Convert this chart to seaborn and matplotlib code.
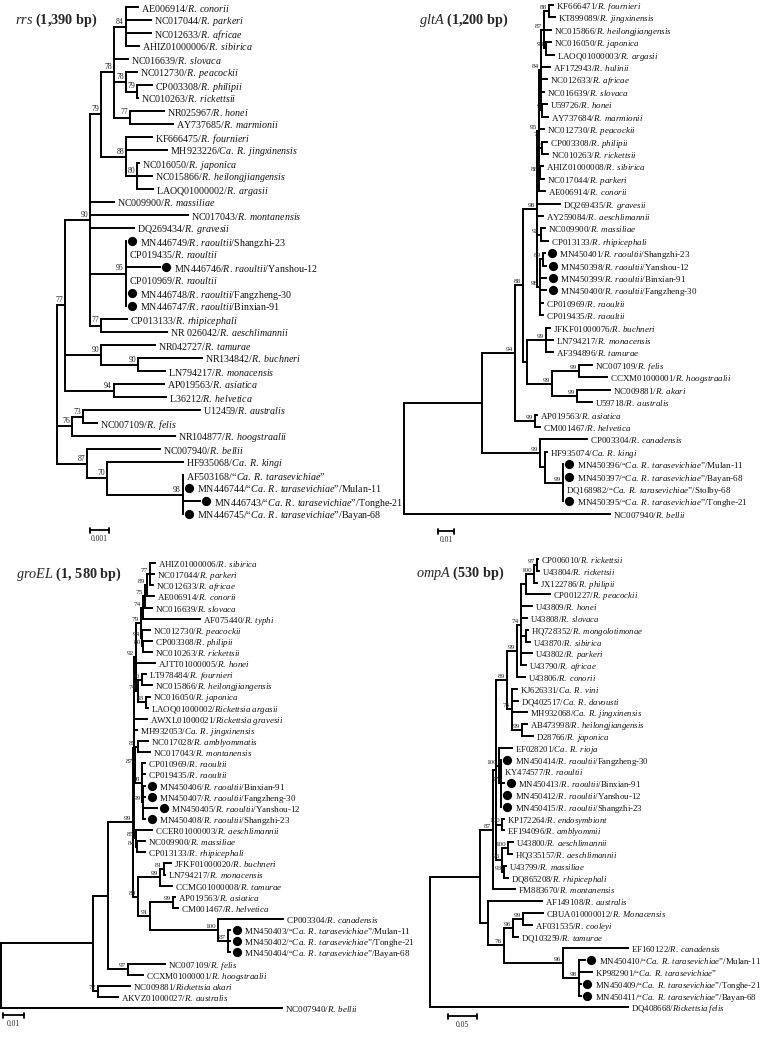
import re
import numpy as np
import pandas as pd
import seaborn as sns
import matplotlib
matplotlib.use("Agg")
import matplotlib.pyplot as plt
from matplotlib.transforms import offset_copy

# ---------------- data: four trees (Newick, branch lengths in substitutions/site) ----------------
# leaf names: "*" = marked with a black dot, {...} = italic part
RRS_TREE = (
    "("
    "("
    "("
    "("
    "("
    "(AE006914/{R. conorii}:0.00063,NC017044/{R. parkeri}:0.00132,NC012633/{R. africae}:0.00132,AHIZ01000006/{R. sibirica}:0.00068)84:0.00063,"
    "NC016639/{R. slovaca}:0.00074,"
    "(NC012730/{R. peacockii}:0.00058,(CP003308/{R. philipii}:0.00079,NC010263/{R. rickettsii}:0.00005)79:0.00058)78:0.00063,"
    "(NR025967/{R. honei}:0.00179,AY737685/{R. marmionii}:0.00226)77:0.00084"
    ")78:0.00068,"
    "(KF666475/{R. fournieri}:0.00137,MH923226/{Ca. R. jingxinensis}:0.00216,(NC016050/{R. japonica}:0.00011,NC015866/{R. heilongjiangensis}:0.00079,LAOQ01000002/{R. argasii}:0.00084)80:0.00058)88:0.00132"
    ")79:0.00058,"
    "NC009900/{R. massiliae}:0.00126,"
    "NC017043/{R. montanensis}:0.00516,"
    "DQ269434/{R. gravesii}:0.00232,"
    "(*MN446749/{R. raoultii}/Shangzhi-23:0,CP019435/{R. raoultii}:0,*MN446746/{R. raoultii}/Yanshou-12:0.00179,CP010969/{R. raoultii}:0,*MN446748/{R. raoultii}/Fangzheng-30:0,*MN446747/{R. raoultii}/Binxian-91:0)95:0.00189,"
    "(CP013133/{R. rhipicephali}:0.00137,NR 026042/{R. aeschlimannii}:0.00347)77:0.00058"
    ")90:0.00132,"
    "(NR042727/{R. tamurae}:0.00284,(NR134842/{R. buchneri}:0.00337,LN794217/{R. monacensis}:0.00142)90:0.00195)90:0.00189,"
    "(AP019563/{R. asiatica}:0.00263,L36212/{R. helvetica}:0.00274)94:0.00258"
    ")77:0.00042,"
    "((U12459/{R. australis}:0.00616,NC007109/{R. felis}:0.00074)73:0.00058,NR104877/{R. hoogstraalii}:0.00542)76:0.00079,"
    "(NC007940/{R. bellii}:0.00384,(HF935068/{Ca. R. kingi}:0.004,(AF503168/\u201c{Ca. R. tarasevichiae}\u201d:0,"
    "*MN446744/\u201c{Ca. R. tarasevichiae}\u201d/Mulan-11:0,*MN446743/\u201c{Ca. R. tarasevichiae}\u201d/Tonghe-21:0.00089,"
    "*MN446745/\u201c{Ca. R. tarasevichiae}\u201d/Bayan-68:0)98:0.004)70:0.00105)87:0.00158"
    ");"
)

GLTA_TREE = (
    "("
    "("
    "("
    "("
    "("
    "("
    "("
    "((KF666471/{R. fournieri}:0.0025,KT899089/{R. jingxinensis}:0.00375)88:0.0031,NC015866/{R. heilongjiangensis}:0.0044,"
    "(NC016050/{R. japonica}:0.0031,LAOQ01000003/{R. argasii}:0.005)93:0.00125)87:0.0019,"
    "AF172943/{R. hulinii}:0.0056,NC012633/{R. africae}:0.00375,NC016639/{R. slovaca}:0.0019,"
    "(U59726/{R. honei}:0.0031,AY737684/{R. marmionii}:0.00375)9:0.0006"
    ")84:0.00125,"
    "(NC012730/{R. peacockii}:0.0028,(CP003308/{R. philipii}:0.0031,NC010263/{R. rickettsii}:0.00375)9:0.0016)7:0.0003,"
    "(AHIZ01000008/{R. sibirica}:0.0019,NC017044/{R. parkeri}:0.0025)88:0.0006,"
    "AE006914/{R. conorii}:0.00375"
    ")95:0.00125,"
    "DQ269435/{R. gravesii}:0.0144,AY259084/{R. aeschlimannii}:0.00375,"
    "(NC009900/{R. massiliae}:0.0025,CP013133/{R. rhipicephali}:0.0044)92:0.0025,"
    "((*MN450401/{R. raoultii}/Shangzhi-23:0.00125,*MN450398/{R. raoultii}/Yanshou-12:0.0019)89:0.0019,"
    "*MN450399/{R. raoultii}/Binxian-91:0.00375,*MN450400/{R. raoultii}/Fangzheng-30:0.00375,"
    "CP010969/{R. raoultii}:0.0019,CP019435/{R. raoultii}:0.0019)98:0.0019"
    ")98:0.00875,"
    "((JFKF01000076/{R. buchneri}:0.0025,LN794217/{R. monacensis}:0.0044,AF394896/{R. tamurae}:0.0044)99:0.0119,"
    "((NC007109/{R. felis}:0.0081,CCXM01000001/{R. hoogstraalii}:0.0175)99:0.0169,"
    "(NC009881/{R. akari}:0.0206,U59718/{R. australis}:0.0094)99:0.0156)99:0.0156):0.0025"
    ")88:0.005,"
    "(AP019563/{R. asiatica}:0.00125,CM001467/{R. helvetica}:0.0031)99:0.0125"
    ")94:0.0206,"
    "(CP003304/{R. canadensis}:0.0294,(HF935074/{Ca. R. kingi}:0.00125,"
    "(*MN450396/\u201c{Ca. R. tarasevichiae}\u201d/Mulan-11:0,*MN450397/\u201c{Ca. R. tarasevichiae}\u201d/Bayan-68:0,"
    "DQ168982/\u201c{Ca. R. tarasevichiae}\u201d/Stolby-68:0,*MN450395/\u201c{Ca. R. tarasevichiae}\u201d/Tonghe-21:0)99:0.01125):0.0031)99:0.03625"
    "):0.04875,"
    "NC007940/{R. bellii}:0.12875"
    ");"
)

GROEL_TREE = (
    "("
    "("
    "("
    "("
    "("
    "("
    "("
    "((((AHIZ01000006/{R. sibirica}:0.0024,NC017044/{R. parkeri}:0.0019,NC012633/{R. africae}:0.0014)77:0.0014,"
    "AE006914/{R. conorii}:0.0033)89:0.00095,NC016639/{R. slovaca}:0.0033)75:0.00095,AF075440/{R. typhi}:0.0271)74:0.00095,"
    "(NC012730/{R. peacockii}:0.0038,(CP003308/{R. philipii}:0.0043,NC010263/{R. rickettsii}:0.0043)80:0.0005)94:0.0005"
    ")79:0.0024,"
    "AJTT01000005/{R. honei}:0.009,"
    "((LT978484/{R. fournieri}:0.0019,NC015866/{R. heilongjiangensis}:0.0048)80:0.0019,"
    "(NC016050/{R. japonica}:0.0019,LAOQ01000002/{Rickettsia argasii}:0.00095)93:0.0038)74:0.00095"
    ")92:0.00095,"
    "AWXL01000021/{Rickettsia gravesii}:0.0062,MH932053/{Ca. R. jingxinensis}:0.0014,"
    "((NC017028/{R. amblyommatis}:0.0048,NC017043/{R. montanensis}:0.0057)85:0.0014,"
    "(CP010969/{R. raoultii}:0.0014,CP019435/{R. raoultii}:0.0014,"
    "(*MN450406/{R. raoultii}/Binxian-91:0.00095,*MN450407/{R. raoultii}/Fangzheng-30:0.00095,"
    "*MN450405/{R. raoultii}/Yanshou-12:0.0067,*MN450408/{R. raoultii}/Shangzhi-23:0.00095)99:0.0005)98:0.0033)87:0.0005,"
    "(CCER01000003/{R. aeschlimannii}:0.0076,(NC009900/{R. massiliae}:0.0038,CP013133/{R. rhipicephali}:0.0038)84:0.0005)85:0.00095"
    "):0.0005,"
    "(((JFKF01000020/{R. buchneri}:0.0033,LN794217/{R. monacensis}:0.0005)81:0.0019,CCMG01000008/{R. tamurae}:0.0057)99:0.0105,"
    "((AP019563/{R. asiatica}:0.00095,CM001467/{R. helvetica}:0.0024)99:0.011,"
    "(CP003304/{R. canadensis}:0.031,(*MN450403/\u201c{Ca. R. tarasevichiae}\u201d/Mulan-11:0.00095,"
    "*MN450402/\u201c{Ca. R. tarasevichiae}\u201d/Tonghe-21:0.00095,*MN450404/\u201c{Ca. R. tarasevichiae}\u201d/Bayan-68:0.00095)87:0.0048)100:0.0324"
    ")91:0.0057)89:0.0024"
    ")99:0.0119,"
    "(NC007109/{R. felis}:0.0176,CCXM01000001/{R. hoogstraalii}:0.0071)97:0.0095"
    "):0.00714,"
    "(NC009881/{Rickettsia akari}:0.0152,AKVZ01000027/{R. australis}:0.0095)72:0.0024"
    "):0.0438,"
    "NC007940/{R. bellii}:0.1338"
    ");"
)

OMPA_TREE = (
    "("
    "("
    "("
    "("
    "("
    "("
    "("
    "(((CP006010/{R. rickettsii}:0.0017,U43804/{R. rickettsii}:0.0034)97:0.0052,JX122786/{R. philipii}:0.0052)100:0.0138,"
    "CP001227/{R. peacockii}:0.0414):0.0086,"
    "U43809/{R. honei}:0.019,U43808/{R. slovaca}:0.0103,"
    "(HQ728352/{R. mongolotimonae}:0.0034,U43870/{R. sibirica}:0.0069):0.0086,"
    "U43802/{R. parkeri}:0.019,U43790/{R. africae}:0.0086"
    ")74:0.0069,"
    "U43806/{R. conorii}:0.0138"
    ")99:0.0172,"
    "(KJ626331/{Ca. R. vini}:0.0086,DQ402517/{Ca. R. davousti}:0.0103,MH932068/{Ca. R. jingxinensis}:0.0259,"
    "(AB473998/{R. heilongjiangensis}:0.0086,D28766/{R. japonica}:0.019)99:0.0172)76:0.0086"
    ")89:0.019,"
    "(EF028201/{Ca. R. rioja}:0.0224,(*MN450414/{R. raoultii}/Fangzheng-30:0,KY474577/{R. raoultii}:0,"
    "*MN450413/{R. raoultii}/Binxian-91:0.0052,*MN450412/{R. raoultii}/Yanshou-12:0,*MN450415/{R. raoultii}/Shangzhi-23:0)97:0.0034)100:0.0052,"
    "(KP172264/{R. endosymbiont}:0.0034,EF194096/{R. amblyommii}:0.0034)100:0.0103,"
    "((U43800/{R. aeschlimannii}:0.0086,HQ335157/{R. aeschlimannii}:0.0069)100:0.0103,"
    "(U43799/{R. massiliae}:0.0034,DQ865208/{R. rhipicephali}:0.0069)93:0.0034)96:0.0103"
    "):0.0052,"
    "FM883670/{R. montanensis}:0.0379"
    ")87:0.0224,"
    "(AF149108/{R. australis}:0.0931,"
    "(((CBUA010000012/{R. Monacensis}:0.0345,AF031535/{R. cooleyi}:0.0155)99:0.0172,DQ103259/{R. tamurae}:0.0086)96:0.0155,"
    "(EF160122/{R. canadensis}:0.1121,(*MN450410/\u201c{Ca. R. tarasevichiae}\u201d/Mulan-11:0.0103,"
    "KP982901/\u201c{Ca. R. tarasevichiae}\u201d:0.0224,*MN450409/\u201c{Ca. R. tarasevichiae}\u201d/Tonghe-21:0.0034,"
    "*MN450411/\u201c{Ca. R. tarasevichiae}\u201d/Bayan-68:0.0034)98:0.0276)96:0.1017)76:0.0276"
    "):0.0138"
    "):0.0862,"
    "DQ408668/{Rickettsia felis}:0.3414"
    ");"
)

TITLES = ["$\\mathit{rrs}$ (1,390 bp)", "$\\mathit{gltA}$ (1,200 bp)",
          "$\\mathit{groEL}$ (1, 580 bp)", "$\\mathit{ompA}$ (530 bp)"]
SCALE_VALUES = [0.001, 0.01, 0.01, 0.05]
SCALE_LABELS = ["0.001", "0.01", "0.01", "0.05"]

# ---------------- layout (pixels of the 765 x 1040 figure) ----------------
W, H = 765, 1040
PANELS = [
    dict(tree=RRS_TREE, rect=(0, 0, 380, 520), root=57, ppu=19000, y0=7.0, dy=13.0,
         fs=7.2, sfs=5.6, title_xy=(15, 20), bar_xy=(90, 530)),
    dict(tree=GLTA_TREE, rect=(380, 0, 385, 520), root=404, ppu=1600, y0=5.0, dy=12.41,
         fs=6.5, sfs=5.2, title_xy=(419, 20), bar_xy=(438, 531)),
    dict(tree=GROEL_TREE, rect=(0, 520, 380, 520), root=1, ppu=2100, y0=563.0, dy=11.125,
         fs=6.5, sfs=5.2, title_xy=(16, 574), bar_xy=(3, 1015)),
    dict(tree=OMPA_TREE, rect=(380, 520, 385, 520), root=430, ppu=580, y0=559.0, dy=11.8,
         fs=6.3, sfs=5.2, title_xy=(416, 573), bar_xy=(448, 1016)),
]

sns.set_theme(style="white")
plt.rcParams["font.family"] = ["Liberation Serif", "DejaVu Serif"]
plt.rcParams["mathtext.fontset"] = "custom"
plt.rcParams["mathtext.rm"] = "Liberation Serif"
plt.rcParams["mathtext.it"] = "Liberation Serif:italic"
plt.rcParams["mathtext.bf"] = "Liberation Serif:bold"


def parse_newick(s):
    s = s.strip().rstrip(";")
    pos = 0

    def skip():
        nonlocal pos
        while pos < len(s) and s[pos] in " \n\t":
            pos += 1

    def node():
        nonlocal pos
        skip()
        kids = []
        if s[pos] == "(":
            pos += 1
            while True:
                kids.append(node())
                skip()
                if s[pos] == ",":
                    pos += 1
                    continue
                pos += 1
                break
        start = pos
        while pos < len(s) and s[pos] not in ":,)":
            pos += 1
        name = s[start:pos].strip()
        length = 0.0
        if pos < len(s) and s[pos] == ":":
            pos += 1
            start = pos
            while pos < len(s) and s[pos] not in ",)":
                pos += 1
            length = float(s[start:pos])
        return {"name": name, "len": length, "kids": kids}

    return node()


def layout(root):
    leaves, internals = [], []

    def rec(n, px):
        n["x"] = px + n["len"]
        if n["kids"]:
            for k in n["kids"]:
                rec(k, n["x"])
            n["y"] = 0.5 * (n["kids"][0]["y"] + n["kids"][-1]["y"])
            internals.append(n)
        else:
            n["y"] = float(len(leaves))
            leaves.append(n)

    rec(root, 0.0)
    return leaves, internals


def fmt(label):
    out = ""
    for p in re.split(r"(\{[^}]*\})", label):
        if p.startswith("{"):
            out += "$\\mathit{" + p[1:-1].replace(" ", "\\;") + "}$"
        else:
            out += p
    return out


fig = plt.figure(figsize=(W / 100, H / 100), dpi=100)
fig.patch.set_facecolor("white")

for i, cfg in enumerate(PANELS):
    L, T, PW, PH = cfg["rect"]
    ax = fig.add_axes([L / W, 1 - (T + PH) / H, PW / W, PH / H])
    S, dy, y0 = cfg["ppu"], cfg["dy"], cfg["y0"]
    tree = parse_newick(cfg["tree"])
    leaves, internals = layout(tree)

    rows = []
    sid = 0
    for n in internals:
        rows += [(sid, n["x"], n["kids"][0]["y"]), (sid, n["x"], n["kids"][-1]["y"])]
        sid += 1
        for k in n["kids"]:
            rows += [(sid, n["x"], k["y"]), (sid, k["x"], k["y"])]
            sid += 1
    seg = pd.DataFrame(rows, columns=["seg", "x", "y"])
    sns.lineplot(data=seg, x="x", y="y", units="seg", estimator=None, sort=False,
                 color="black", linewidth=1.4, solid_capstyle="projecting", ax=ax, legend=False)

    # support values
    for n in internals:
        if n["name"]:
            ax.text(n["x"], n["y"], n["name"], fontsize=cfg["sfs"], ha="right", va="bottom",
                    color="#222222",
                    transform=offset_copy(ax.transData, x=-2, y=1, units="dots"))

    # leaves
    dx_list, dy_list = [], []
    for lf in leaves:
        dot = lf["name"].startswith("*")
        name = lf["name"].lstrip("*")
        if dot:
            dx_list.append(lf["x"] + 6.5 / S)
            dy_list.append(lf["y"])
        ax.text(lf["x"], lf["y"], fmt(name), fontsize=cfg["fs"], ha="left", va="center_baseline",
                color="#111111", clip_on=False,
                transform=offset_copy(ax.transData, x=(14 if dot else 3), y=0, units="dots"))
    sns.scatterplot(x=dx_list, y=dy_list, s=44, color="black", linewidth=0, ax=ax, legend=False)

    # scale bar
    bx = (cfg["bar_xy"][0] - cfg["root"]) / S
    by = (cfg["bar_xy"][1] - y0) / dy
    sv = SCALE_VALUES[i]
    th = 2.5 / dy
    bar = pd.DataFrame([(0, bx, by), (0, bx + sv, by), (1, bx, by - th), (1, bx, by + th),
                        (2, bx + sv, by - th), (2, bx + sv, by + th)], columns=["seg", "x", "y"])
    sns.lineplot(data=bar, x="x", y="y", units="seg", estimator=None, sort=False,
                 color="black", linewidth=1.3, ax=ax, legend=False, clip_on=False)
    ax.text(bx + sv / 2, by + 9.0 / dy, SCALE_LABELS[i], fontsize=5.5, ha="center", va="center")

    ax.set_xlim((L - cfg["root"]) / S, (L + PW - cfg["root"]) / S)
    ax.set_ylim((T + PH - y0) / dy, (T - y0) / dy)
    ax.set_axis_off()

    tx, ty = cfg["title_xy"]
    fig.text(tx / W, 1 - ty / H, TITLES[i], fontsize=10.3, fontweight="bold", ha="left", va="center")

fig.savefig("out.png", dpi=100, facecolor="white")
